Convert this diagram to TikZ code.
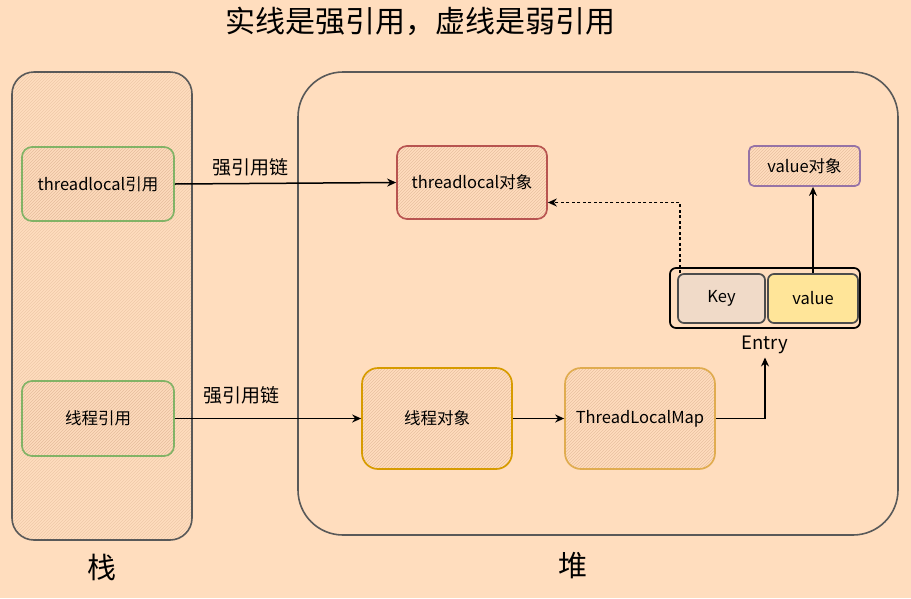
\documentclass[tikz,border=0pt]{standalone}
\usepackage{fontspec}
\setmainfont{Noto Sans CJK SC}
\usetikzlibrary{arrows.meta,patterns}

\definecolor{peach}{RGB}{255,221,190}
\definecolor{hatch}{RGB}{232,192,160}
\definecolor{greenline}{RGB}{130,179,102}
\definecolor{redline}{RGB}{184,84,80}
\definecolor{purpleline}{RGB}{150,115,166}
\definecolor{orangeline}{RGB}{215,155,0}
\definecolor{goldline}{RGB}{224,172,80}
\definecolor{yellowfill}{RGB}{255,229,153}
\definecolor{keyfill}{RGB}{240,218,200}

\tikzset{
  sketchbox/.style={draw,line width=1.7pt,rounded corners=10pt,
    pattern=north east lines,pattern color=hatch,
    font=\fontsize{16.5}{19}\selectfont,inner sep=0pt},
  link/.style={line width=1.5pt,-{Stealth[open,length=9pt,width=8pt]}},
  linklabel/.style={font=\fontsize{19}{22}\selectfont}
}

\begin{document}
\begin{tikzpicture}[x=1pt,y=-1pt]

\fill[peach] (0,0) rectangle (911,598);
\useasboundingbox (0,0) rectangle (911,598);

% title
\node[font=\fontsize{30}{34}\selectfont] (title) at (420,21) {实线是强引用，虚线是弱引用};

% stack and heap
\draw[line width=1.6pt,draw=black!65,rounded corners=22pt,
  pattern=north east lines,pattern color=hatch!70!peach] (12,72) rectangle (192,540);
\draw[line width=1.6pt,draw=black!65,rounded corners=45pt] (298,72) rectangle (898,535);
\node[font=\fontsize{29}{33}\selectfont] (stack) at (102,567) {栈};
\node[font=\fontsize{29}{33}\selectfont] (heap) at (573,566) {堆};

% stack boxes
\node[sketchbox,draw=greenline,minimum width=152pt,minimum height=74pt] (tlref) at (98,184) {threadlocal引用};
\node[sketchbox,draw=greenline,minimum width=152pt,minimum height=75pt] (thref) at (98,418.5) {线程引用};

% heap boxes
\node[sketchbox,draw=redline,minimum width=150pt,minimum height=73pt] (tlobj) at (472,182.5) {threadlocal对象};
\node[sketchbox,draw=purpleline,rounded corners=5pt,minimum width=111pt,minimum height=40pt] (valobj) at (804.5,166) {value对象};
\node[sketchbox,draw=orangeline,rounded corners=16pt,minimum width=150pt,minimum height=101pt] (thobj) at (437,418.5) {线程对象};
\node[sketchbox,draw=goldline,rounded corners=16pt,minimum width=150pt,minimum height=101pt] (tlmap) at (640,418.5) {ThreadLocalMap};

% entry
\node[draw,line width=1.7pt,rounded corners=6pt,minimum width=190pt,minimum height=60pt] (entry) at (765,298) {};
\node[sketchbox,draw=black!70,fill=keyfill,rounded corners=6pt,minimum width=87pt,minimum height=49pt] (key) at (721.5,298.5) {Key};
\node[sketchbox,draw=black!70,fill=yellowfill,rounded corners=6pt,minimum width=90pt,minimum height=49pt] (valcell) at (813,298.5) {value};
\node[font=\fontsize{18.5}{21}\selectfont] (entrylbl) at (765,345) {Entry};

% connectors
\draw[link] (tlref.east) -- node[linklabel,pos=.34,above=3pt] {强引用链} (tlobj.west);
\draw[link] (thref.east) -- node[linklabel,pos=.36,above=10pt] {强引用链} (thobj.west);
\draw[link] (thobj.east) -- (tlmap.west);
\draw[link] (tlmap.east) -| (entrylbl.south);
\draw[link] (valcell.north) -- (valcell.north |- valobj.south);
\draw[link,dash pattern=on 3pt off 2.5pt] ([xshift=3pt]key.north west) |- ([yshift=-20pt]tlobj.east);

\end{tikzpicture}
\end{document}
